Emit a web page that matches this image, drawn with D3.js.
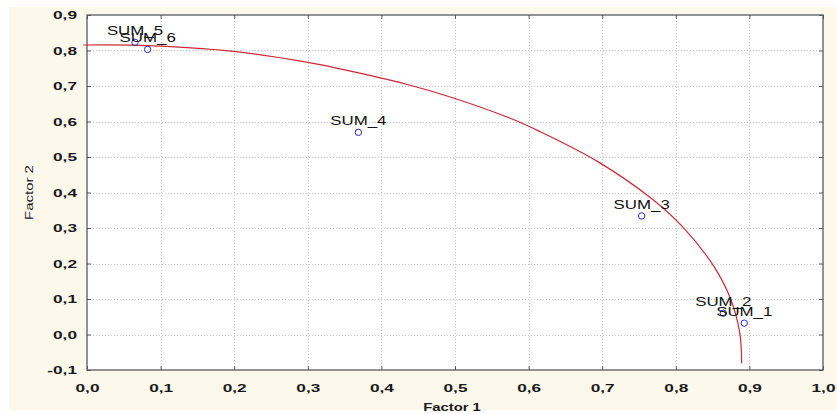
<!DOCTYPE html>
<html>
<head>
<meta charset="utf-8">
<script src="https://cdn.jsdelivr.net/npm/d3@7"></script>
<style>
  html, body { margin: 0; padding: 0; background: #ffffff; }
  svg { display: block; }
</style>
</head>
<body>
<svg id="chart" width="837" height="414"></svg>
<script>
// ---- data ----
const pointLabels = ["SUM_1", "SUM_2", "SUM_3", "SUM_4", "SUM_5", "SUM_6"];
const factor1 = [0.893, 0.8645, 0.7536, 0.3687, 0.0652, 0.0824];
const factor2 = [0.032, 0.060, 0.334, 0.5695, 0.823, 0.803];

// red reference curve
const curveX = [-0.005, 0.072, 0.199, 0.2985, 0.344, 0.434, 0.497, 0.575, 0.614, 0.694, 0.767, 0.809, 0.852, 0.875, 0.887, 0.8895];
const curveY = [0.8155, 0.8145, 0.7975, 0.767, 0.748, 0.705, 0.667, 0.609, 0.573, 0.487, 0.383, 0.304, 0.191, 0.097, 0.003, -0.081];

const xTickValues = [0.0, 0.1, 0.2, 0.3, 0.4, 0.5, 0.6, 0.7, 0.8, 0.9, 1.0];
const yTickValues = [-0.1, 0.0, 0.1, 0.2, 0.3, 0.4, 0.5, 0.6, 0.7, 0.8, 0.9];
const xTitle = "Factor 1";
const yTitle = "Factor 2";

// ---- layout ----
const W = 837, H = 414;
const margin = { left: 87, right: 14, top: 15, bottom: 44 };
const svg = d3.select("#chart");
const fontFamily = "'Liberation Sans', Arial, sans-serif";

// cream panel
svg.append("rect").attr("x", 9).attr("y", 7).attr("width", W - 9).attr("height", 403).attr("fill", "#fcf8ec");

const x = d3.scaleLinear().domain([0, 1]).range([margin.left, W - margin.right]);
const y = d3.scaleLinear().domain([-0.1, 0.9]).range([H - margin.bottom, margin.top]);

// plot area
svg.append("rect")
  .attr("x", x(0)).attr("y", y(0.9))
  .attr("width", x(1) - x(0)).attr("height", y(-0.1) - y(0.9))
  .attr("fill", "#ffffff");

const fmt = v => d3.format(".1f")(v).replace(".", ",").replace("−", "-");

// grid
const grid = svg.append("g").attr("stroke", "#c4c4c4").attr("stroke-dasharray", "1,2").attr("stroke-width", 1);
grid.selectAll("line.gx").data(xTickValues.slice(1, -1)).join("line")
  .attr("x1", d => Math.round(x(d)) + 0.5).attr("x2", d => Math.round(x(d)) + 0.5)
  .attr("y1", y(0.9)).attr("y2", y(-0.1));
grid.selectAll("line.gy").data(yTickValues.slice(1, -1)).join("line")
  .attr("y1", d => Math.round(y(d)) + 0.5).attr("y2", d => Math.round(y(d)) + 0.5)
  .attr("x1", x(0)).attr("x2", x(1));

// axes (inward ticks on all four sides)
const tickLen = 4;
const axisColor = "#5a5a5a";
function styleAxis(g) {
  g.select(".domain").remove();
  g.selectAll(".tick line").attr("stroke", axisColor);
}
const xb = svg.append("g").attr("transform", `translate(0,${y(-0.1)})`)
  .call(d3.axisBottom(x).tickValues(xTickValues).tickFormat(fmt).tickSizeInner(-tickLen).tickSizeOuter(0).tickPadding(14))
  .call(styleAxis);
const xt = svg.append("g").attr("transform", `translate(0,${y(0.9)})`)
  .call(d3.axisTop(x).tickValues(xTickValues).tickFormat("").tickSizeInner(-tickLen).tickSizeOuter(0))
  .call(styleAxis);
const yl = svg.append("g").attr("transform", `translate(${x(0)},0)`)
  .call(d3.axisLeft(y).tickValues(yTickValues).tickFormat(fmt).tickSizeInner(-tickLen).tickSizeOuter(0).tickPadding(14))
  .call(styleAxis);
const yr = svg.append("g").attr("transform", `translate(${x(1)},0)`)
  .call(d3.axisRight(y).tickValues(yTickValues).tickFormat("").tickSizeInner(-tickLen).tickSizeOuter(0))
  .call(styleAxis);

[xb, yl].forEach(g => g.selectAll(".tick text")
  .attr("font-family", fontFamily).attr("font-size", 11.5).attr("font-weight", "bold").attr("fill", "#1a1a1a"));
xb.selectAll(".tick text").attr("transform", "scale(1.5,1)");
yl.selectAll(".tick text").attr("x", 0).attr("transform", "translate(-10,0) scale(1.5,1)");

// frame
svg.append("rect")
  .attr("x", x(0)).attr("y", y(0.9))
  .attr("width", x(1) - x(0)).attr("height", y(-0.1) - y(0.9))
  .attr("fill", "none").attr("stroke", axisColor).attr("stroke-width", 1.3);

// axis titles
svg.append("text")
  .attr("transform", `translate(${(x(0) + x(1)) / 2 - 3},${411}) scale(1.35,1)`)
  .attr("text-anchor", "middle")
  .attr("font-family", fontFamily).attr("font-size", 11).attr("font-weight", "bold").attr("fill", "#1a1a1a")
  .text(xTitle);
svg.append("text")
  .attr("transform", `translate(33,${(y(-0.1) + y(0.9)) / 2}) rotate(-90) scale(1.3,1)`)
  .attr("text-anchor", "middle")
  .attr("font-family", fontFamily).attr("font-size", 11.5).attr("fill", "#1a1a1a")
  .text(yTitle);

// curve
const curvePts = curveX.map((cx, i) => [cx, curveY[i]]);
svg.append("path")
  .datum(curvePts)
  .attr("fill", "none")
  .attr("stroke", "#cc2836")
  .attr("stroke-width", 1.2)
  .attr("d", d3.line().x(d => x(d[0])).y(d => y(d[1])).curve(d3.curveCatmullRom.alpha(0.5)));

// points
const pts = pointLabels.map((l, i) => ({ label: l, fx: factor1[i], fy: factor2[i] }));
svg.append("g").selectAll("circle").data(pts).join("circle")
  .attr("cx", d => x(d.fx)).attr("cy", d => y(d.fy)).attr("r", 3.2)
  .attr("fill", "none").attr("stroke", "#2a2ac0").attr("stroke-width", 1);

svg.append("g").selectAll("text").data(pts).join("text")
  .attr("transform", d => `translate(${x(d.fx)},${y(d.fy) - 7}) scale(1.25,1)`)
  .attr("text-anchor", "middle")
  .attr("font-family", fontFamily).attr("font-size", 13.5).attr("fill", "#111111")
  .text(d => d.label);
</script>
</body>
</html>
